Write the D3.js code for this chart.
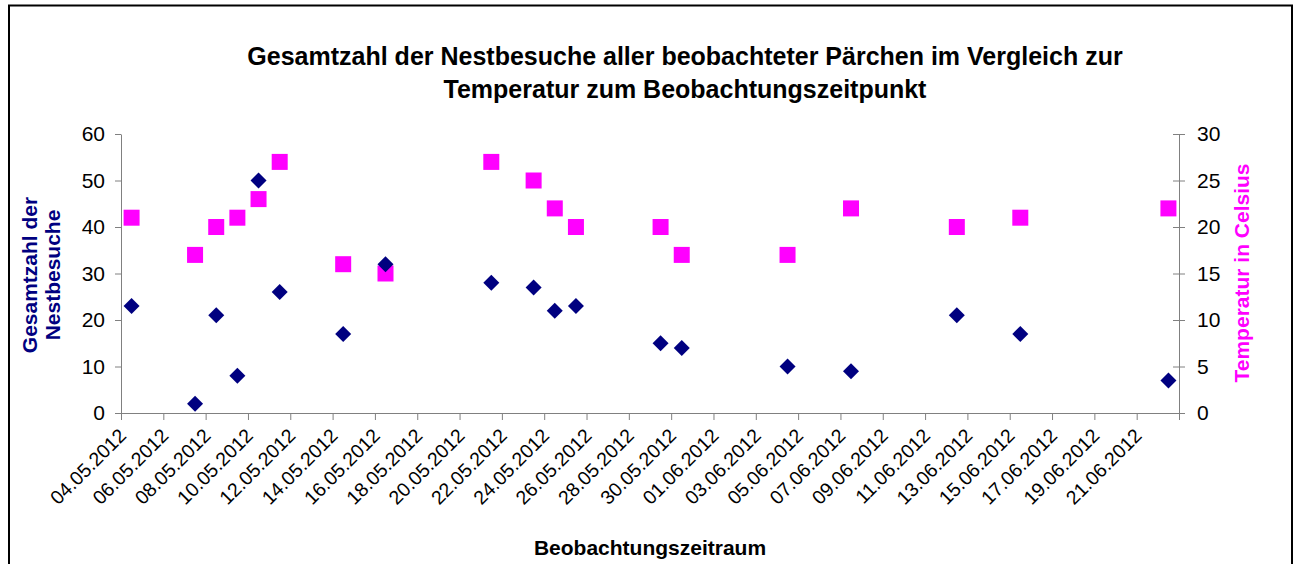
<!DOCTYPE html>
<html lang="de">
<head>
    <meta charset="UTF-8">
    <title>Nestbesuche und Temperatur</title>
    <style>
        body {
            margin: 0;
            background-color: #fff;
        }

        svg text {
            font-family: "Liberation Sans", Arial, sans-serif;
        }

        .axis path,
        .axis line {
            stroke: #808080;
        }

        .axis text {
            fill: #000;
        }
    </style>
</head>
<body>
    <svg id="chart" width="1296" height="564"></svg>

    <script src="https://cdn.jsdelivr.net/npm/d3@7/dist/d3.min.js"></script>
    <script>
        // observation days (dd.mm.yyyy)
        const dates = [
            '04.05.2012', '07.05.2012', '08.05.2012', '09.05.2012', '10.05.2012',
            '11.05.2012', '14.05.2012', '16.05.2012', '21.05.2012', '23.05.2012',
            '24.05.2012', '25.05.2012', '29.05.2012', '30.05.2012', '04.06.2012',
            '07.06.2012', '12.06.2012', '15.06.2012', '22.06.2012'
        ];
        const visits = [23, 2, 21, 8, 50, 26, 17, 32, 28, 27, 22, 23, 15, 14, 10, 9, 21, 17, 7];
        const temperature = [21, 17, 20, 21, 23, 27, 16, 15, 27, 25, 22, 20, 20, 17, 17, 22, 20, 21, 22];

        const dateStart = '04.05.2012';
        const dateEnd = '23.06.2012';
        const visitTicks = [0, 10, 20, 30, 40, 50, 60];
        const tempTicks = [0, 5, 10, 15, 20, 25, 30];

        const titleLines = [
            'Gesamtzahl der Nestbesuche aller beobachteter Pärchen im Vergleich zur',
            'Temperatur zum Beobachtungszeitpunkt'
        ];

        const parseDate = d3.timeParse('%d.%m.%Y');
        const fmtDate = d3.timeFormat('%d.%m.%Y');

        const svg = d3.select('#chart');
        const plot = { left: 121, right: 1179, top: 134, bottom: 413 };

        // frame
        svg.append('rect')
            .attr('x', 9)
            .attr('y', 5.5)
            .attr('width', 1283)
            .attr('height', 600)
            .attr('fill', 'none')
            .attr('stroke', '#000')
            .attr('stroke-width', 2);

        const start = parseDate(dateStart);
        const end = parseDate(dateEnd);

        const x = d3.scaleTime()
            .domain([start, end])
            .range([plot.left, plot.right]);

        const yLeft = d3.scaleLinear()
            .domain([0, 60])
            .range([plot.bottom, plot.top]);

        const yRight = d3.scaleLinear()
            .domain([0, 30])
            .range([plot.bottom, plot.top]);

        // points sit in the middle of their day
        const xMid = d => x(d3.timeHour.offset(parseDate(d), 12));

        // x axis: tick every two days, label all but the last
        const xTickDates = d3.timeDay.range(start, d3.timeDay.offset(end, 1), 2);
        const xAxis = d3.axisBottom(x)
            .tickValues(xTickDates)
            .tickSize(7)
            .tickSizeOuter(0)
            .tickFormat(d => +d === +end ? '' : fmtDate(d));

        const gx = svg.append('g')
            .attr('class', 'axis')
            .attr('transform', `translate(0,${plot.bottom})`)
            .call(xAxis);
        gx.selectAll('text')
            .attr('font-size', 19.5)
            .attr('text-anchor', 'end')
            .attr('x', 0)
            .attr('y', 0)
            .attr('dy', '0.35em')
            .attr('transform', 'translate(1,19) rotate(-45)');

        const gl = svg.append('g')
            .attr('class', 'axis')
            .attr('transform', `translate(${plot.left},0)`)
            .call(d3.axisLeft(yLeft).tickValues(visitTicks).tickSize(6).tickSizeOuter(0).tickPadding(10));
        gl.selectAll('text').attr('font-size', 21);

        const gr = svg.append('g')
            .attr('class', 'axis')
            .attr('transform', `translate(${plot.right},0)`)
            .call(d3.axisRight(yRight).tickValues(tempTicks).tickSize(6).tickSizeOuter(0).tickPadding(12));
        gr.selectAll('text').attr('font-size', 21);
        gr.selectAll('.tick line').attr('x1', -6);

        // series: temperature squares
        const sq = 16;
        svg.append('g')
            .selectAll('rect')
            .data(dates)
            .join('rect')
            .attr('x', d => xMid(d) - sq / 2)
            .attr('y', (d, i) => yRight(temperature[i]) - sq / 2)
            .attr('width', sq)
            .attr('height', sq)
            .attr('fill', '#ff00ff');

        // series: nest visits diamonds
        const dm = 8;
        svg.append('g')
            .selectAll('path')
            .data(dates)
            .join('path')
            .attr('d', (d, i) => {
                const cx = xMid(d), cy = yLeft(visits[i]);
                return `M${cx},${cy - dm}L${cx + dm},${cy}L${cx},${cy + dm}L${cx - dm},${cy}Z`;
            })
            .attr('fill', '#000080');

        // title
        svg.append('g')
            .selectAll('text')
            .data(titleLines)
            .join('text')
            .attr('x', 685)
            .attr('y', (d, i) => 65 + i * 33)
            .attr('text-anchor', 'middle')
            .attr('font-size', 25)
            .attr('font-weight', 'bold')
            .attr('fill', '#000')
            .text(d => d);

        // axis titles
        svg.append('text')
            .attr('transform', 'translate(37,275) rotate(-90)')
            .attr('text-anchor', 'middle')
            .attr('font-size', 21)
            .attr('font-weight', 'bold')
            .attr('fill', '#000080')
            .selectAll('tspan')
            .data(['Gesamtzahl der', 'Nestbesuche'])
            .join('tspan')
            .attr('x', 0)
            .attr('dy', (d, i) => i === 0 ? 0 : 23)
            .text(d => d);

        svg.append('text')
            .attr('transform', 'translate(1249,273) rotate(-90)')
            .attr('text-anchor', 'middle')
            .attr('font-size', 21)
            .attr('font-weight', 'bold')
            .attr('fill', '#ff00ff')
            .text('Temperatur in Celsius');

        svg.append('text')
            .attr('x', 650)
            .attr('y', 555)
            .attr('text-anchor', 'middle')
            .attr('font-size', 21)
            .attr('font-weight', 'bold')
            .attr('fill', '#000')
            .text('Beobachtungszeitraum');
    </script>
</body>
</html>
